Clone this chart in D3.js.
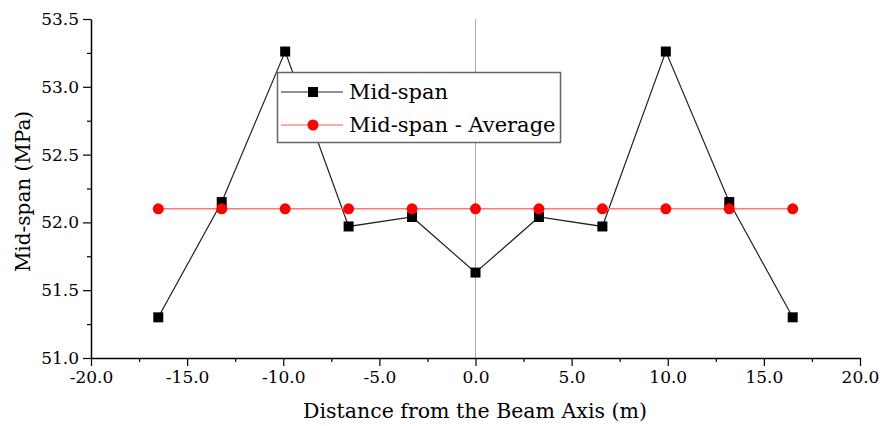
<!DOCTYPE html>
<html>
<head>
<meta charset="utf-8">
<script src="https://cdn.jsdelivr.net/npm/d3@7"></script>
<style>
  html, body { margin: 0; padding: 0; background: #fff; }
  svg text { font-family: "DejaVu Serif", "Liberation Serif", serif; fill: #000; }
</style>
</head>
<body>
<svg id="chart" width="885" height="426"></svg>
<script>
// Distance of each measuring point from the beam axis (m)
const distances = [-16.5, -13.2, -9.9, -6.6, -3.3, 0, 3.3, 6.6, 9.9, 13.2, 16.5];
// Mid-span stress at each point (MPa)
const midSpan = [51.30, 52.15, 53.26, 51.97, 52.04, 51.63, 52.04, 51.97, 53.26, 52.15, 51.30];
// Average of the mid-span stresses (MPa)
const midSpanAverage = [52.10, 52.10, 52.10, 52.10, 52.10, 52.10, 52.10, 52.10, 52.10, 52.10, 52.10];

const xTicks = [-20, -15, -10, -5, 0, 5, 10, 15, 20];
const xMinorTicks = [-17.5, -12.5, -7.5, -2.5, 2.5, 7.5, 12.5, 17.5];
const yTicks = [51.0, 51.5, 52.0, 52.5, 53.0, 53.5];
const yMinorTicks = [51.25, 51.75, 52.25, 52.75, 53.25];

const seriesNames = ["Mid-span", "Mid-span - Average"];
const xTitle = "Distance from the Beam Axis (m)";
const yTitle = "Mid-span (MPa)";

const svg = d3.select("#chart");
const plotLeft = 91, plotRight = 860, plotTop = 19, plotBottom = 358;

const x = d3.scaleLinear().domain([-20, 20]).range([plotLeft, plotRight]);
const y = d3.scaleLinear().domain([51.0, 53.5]).range([plotBottom, plotTop]);

// one decimal, plain hyphen for negatives
const fmt = d => d.toFixed(1);

// reference line at the beam axis
svg.append("line")
  .attr("x1", x(0)).attr("x2", x(0))
  .attr("y1", y(53.5)).attr("y2", y(51.0))
  .attr("stroke", "#aaa").attr("stroke-width", 1);

// axes
const xAxis = svg.append("g").attr("transform", `translate(0,${plotBottom})`)
  .call(d3.axisBottom(x).tickValues(xTicks).tickSize(8).tickPadding(5).tickFormat(fmt).tickSizeOuter(0));
svg.append("g").attr("transform", `translate(0,${plotBottom})`)
  .call(d3.axisBottom(x).tickValues(xMinorTicks).tickSize(4).tickFormat("").tickSizeOuter(0))
  .select(".domain").remove();

const yAxis = svg.append("g").attr("transform", `translate(${plotLeft},0)`)
  .call(d3.axisLeft(y).tickValues(yTicks).tickSize(8).tickPadding(4).tickFormat(fmt).tickSizeOuter(0));
svg.append("g").attr("transform", `translate(${plotLeft},0)`)
  .call(d3.axisLeft(y).tickValues(yMinorTicks).tickSize(4).tickFormat("").tickSizeOuter(0))
  .select(".domain").remove();

svg.selectAll(".domain").attr("stroke", "#000").attr("stroke-width", 1.5);
svg.selectAll(".tick line").attr("stroke", "#000").attr("stroke-width", 1.2);
xAxis.selectAll("text").attr("font-size", 17).attr("font-family", "DejaVu Serif").attr("fill", "#000");
yAxis.selectAll("text").attr("font-size", 17).attr("font-family", "DejaVu Serif").attr("fill", "#000");

// axis titles
svg.append("text")
  .attr("x", 475).attr("y", 418)
  .attr("text-anchor", "middle").attr("font-size", 20.5)
  .text(xTitle);
svg.append("text")
  .attr("transform", `translate(30,${(plotTop + plotBottom) / 2 + 3}) rotate(-90)`)
  .attr("text-anchor", "middle").attr("font-size", 20)
  .text(yTitle);

// Mid-span series
const line = d3.line().x((d, i) => x(distances[i])).y(d => y(d));
svg.append("path").datum(midSpan)
  .attr("d", line).attr("fill", "none")
  .attr("stroke", "#222").attr("stroke-width", 1.2);
svg.append("g").selectAll("rect").data(midSpan).join("rect")
  .attr("x", (d, i) => x(distances[i]) - 5)
  .attr("y", d => y(d) - 5)
  .attr("width", 10).attr("height", 10)
  .attr("fill", "#000");

// Average series
svg.append("path").datum(midSpanAverage)
  .attr("d", line).attr("fill", "none")
  .attr("stroke", "#ff7777").attr("stroke-width", 1.5);
svg.append("g").selectAll("circle").data(midSpanAverage).join("circle")
  .attr("cx", (d, i) => x(distances[i]))
  .attr("cy", d => y(d))
  .attr("r", 5.5)
  .attr("fill", "#ff0000");

// legend
const lg = svg.append("g");
lg.append("rect")
  .attr("x", 277.5).attr("y", 72.5).attr("width", 283).attr("height", 70)
  .attr("fill", "#fff").attr("stroke", "#666").attr("stroke-width", 1.5);
const rows = [
  { name: seriesNames[0], color: "#000", line: "#222", shape: "square", cy: 92 },
  { name: seriesNames[1], color: "#ff0000", line: "#ff5555", shape: "circle", cy: 125 }
];
rows.forEach(r => {
  lg.append("line").attr("x1", 281).attr("x2", 343)
    .attr("y1", r.cy).attr("y2", r.cy)
    .attr("stroke", r.line).attr("stroke-width", 1.2);
  if (r.shape === "square") {
    lg.append("rect").attr("x", 313 - 5).attr("y", r.cy - 5)
      .attr("width", 10).attr("height", 10).attr("fill", r.color);
  } else {
    lg.append("circle").attr("cx", 313).attr("cy", r.cy).attr("r", 5.5).attr("fill", r.color);
  }
  lg.append("text").attr("x", 349).attr("y", r.cy + 7)
    .attr("font-size", 21).text(r.name);
});
</script>
</body>
</html>
